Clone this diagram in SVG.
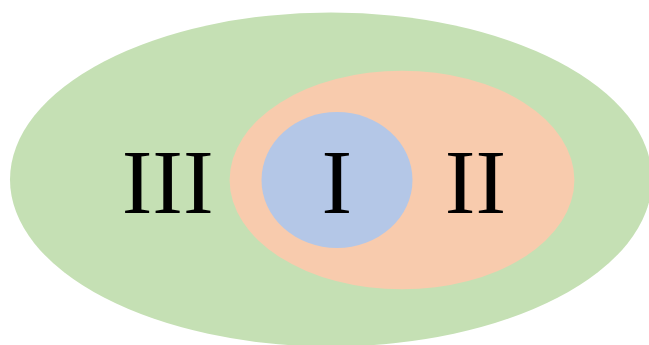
<svg xmlns="http://www.w3.org/2000/svg" width="649" height="345" viewBox="0 0 649 345">
<style>
text{font-family:"Liberation Serif","Times New Roman",serif;font-size:92px;fill:#000;text-anchor:middle}
</style>
<rect width="649" height="345" fill="#fff"/>
<g id="set-III"><ellipse cx="331" cy="179.5" rx="321" ry="167" fill="#C5E0B4"/></g>
<g id="set-II"><ellipse cx="402" cy="180" rx="172.4" ry="109.3" fill="#F8CBAD"/></g>
<g id="set-I"><ellipse cx="337" cy="180" rx="75.5" ry="68" fill="#B4C7E7"/></g>
<g id="labels">
<text x="167.7" y="213.3">III</text>
<text x="336.7" y="213.3">I</text>
<text x="475.5" y="213.3">II</text>
</g>
</svg>
